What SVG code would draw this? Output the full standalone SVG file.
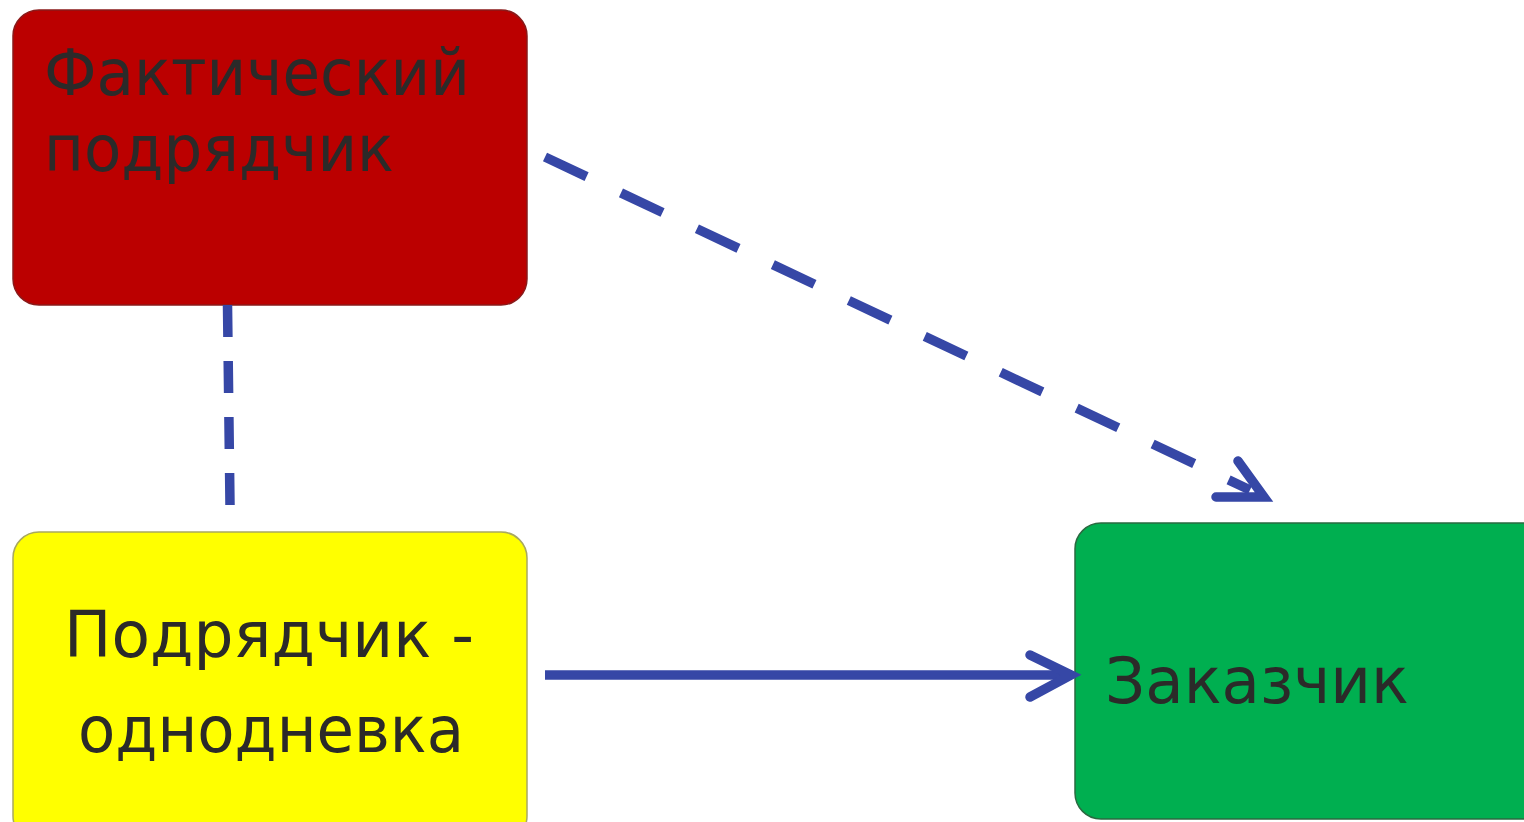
<svg xmlns="http://www.w3.org/2000/svg" width="1524" height="822" viewBox="0 0 1524 822">
<style>
.lbl{font-family:"DejaVu Sans","Noto Sans",sans-serif;font-size:64px;fill:#2b2a29}
.con{fill:none;stroke:#3647a6;stroke-width:9.5}
</style>
<rect width="1524" height="822" fill="#ffffff"/>
<g id="node-actual">
<rect x="13" y="10" width="514" height="295" rx="26" fill="#bb0000" stroke="#8a1a1a" stroke-width="1.5"/>
<text class="lbl" x="44" y="95" textLength="426" lengthAdjust="spacingAndGlyphs">Фактический</text>
<text class="lbl" x="44" y="171" textLength="350" lengthAdjust="spacingAndGlyphs">подрядчик</text>
</g>
<g id="node-shell">
<rect x="13" y="532" width="514" height="310" rx="26" fill="#ffff00" stroke="#a8a860" stroke-width="1.5"/>
<text class="lbl" x="64" y="657" textLength="410" lengthAdjust="spacingAndGlyphs">Подрядчик -</text>
<text class="lbl" x="78" y="752" textLength="386" lengthAdjust="spacingAndGlyphs">однодневка</text>
</g>
<g id="node-customer">
<rect x="1075" y="523" width="480" height="296" rx="26" fill="#00af50" stroke="#2a6a40" stroke-width="1.5"/>
<text class="lbl" x="1105" y="703" textLength="304" lengthAdjust="spacingAndGlyphs">Заказчик</text>
</g>
<g id="connectors">
<line class="con" x1="227.5" y1="305" x2="230" y2="505" stroke-dasharray="32 24" stroke-width="8"/>
<line class="con" x1="545" y1="157" x2="1250" y2="490" stroke-dasharray="46 38"/>
<path class="con" d="M1238,461 L1264,497 L1216,497" stroke-linecap="round" stroke-linejoin="miter"/>
<line class="con" x1="545" y1="675" x2="1072" y2="675"/>
<path class="con" d="M1030,655 L1071,675 L1030,697" stroke-linecap="round" stroke-linejoin="miter"/>
</g>
</svg>
